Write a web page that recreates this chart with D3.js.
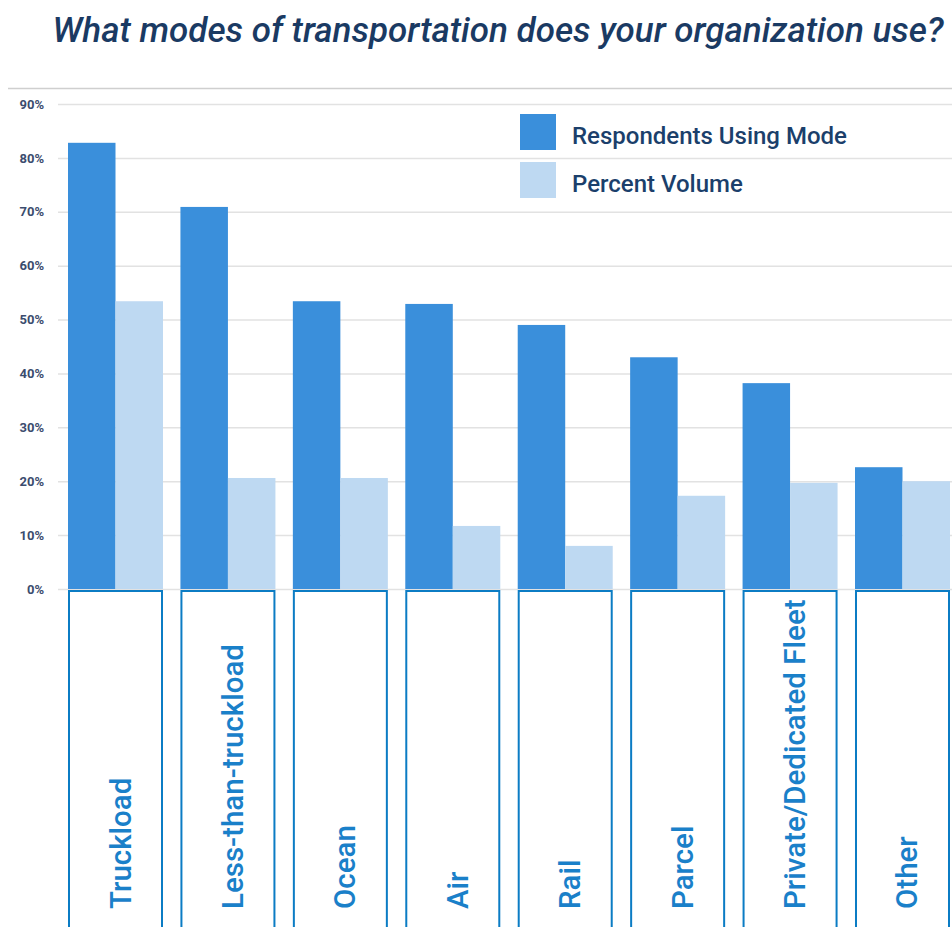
<!DOCTYPE html>
<html>
<head>
<meta charset="utf-8">
<script src="https://cdn.jsdelivr.net/npm/d3@7"></script>
<style>
  html, body { margin: 0; padding: 0; background: #fff; }
  svg { display: block; font-family: Roboto, "Noto Sans", sans-serif; }
</style>
</head>
<body>
<div id="chart"></div>
<script>
// Chart data
const modes = ['Truckload', 'Less-than-truckload', 'Ocean', 'Air', 'Rail', 'Parcel', 'Private/Dedicated Fleet', 'Other'];
const respondents = [82.8, 70.9, 53.4, 52.9, 49.0, 43.0, 38.2, 22.6];
const volume = [53.4, 20.6, 20.6, 11.7, 8.0, 17.3, 19.7, 20.0];
const seriesNames = ['Respondents Using Mode', 'Percent Volume'];
const yTicks = [0, 10, 20, 30, 40, 50, 60, 70, 80, 90];

const W = 952, H = 927;
const DARK = '#3a8fdb', LIGHT = '#bed9f2';

const svg = d3.select('#chart').append('svg').attr('width', W).attr('height', H);

// Title
svg.append('text')
  .attr('x', 498).attr('y', 42)
  .attr('text-anchor', 'middle')
  .attr('font-size', 35).attr('font-style', 'italic').attr('font-weight', 500)
  .attr('fill', '#1a3a63')
  .text('What modes of transportation does your organization use?');

// Top rule
svg.append('line').attr('x1', 8).attr('x2', W).attr('y1', 88.5).attr('y2', 88.5)
  .attr('stroke', '#cfcfcf').attr('stroke-width', 1.5);

const y = d3.scaleLinear().domain([0, 90]).range([589, 104]);
const x = d3.scaleBand().domain(modes).range([68, 950]).paddingInner(0.155).paddingOuter(0);
const xs = d3.scaleBand().domain(seriesNames).range([0, x.bandwidth()]);

// Grid + y labels
const yAxis = svg.append('g').attr('transform', 'translate(58,0)')
  .call(d3.axisLeft(y).tickValues(yTicks).tickSize(-(W - 58)).tickPadding(14).tickFormat(d => d + '%'));
yAxis.select('.domain').remove();
yAxis.selectAll('.tick line').attr('stroke', '#e2e2e2').attr('stroke-width', 1.5);
yAxis.selectAll('.tick text')
  .attr('font-size', 13).attr('font-weight', 700).attr('fill', '#3b4c6e')
  .attr('font-family', 'Roboto, sans-serif');

// Bars
const rows = modes.map((m, i) => ({ mode: m, vals: [respondents[i], volume[i]] }));
const groups = svg.append('g').selectAll('g').data(rows).join('g')
  .attr('transform', d => `translate(${x(d.mode)},0)`);
groups.selectAll('rect').data(d => d.vals.map((v, j) => ({ v, s: seriesNames[j] }))).join('rect')
  .attr('x', d => xs(d.s))
  .attr('width', xs.bandwidth())
  .attr('y', d => y(d.v))
  .attr('height', d => y(0) - y(d.v))
  .attr('fill', d => d.s === seriesNames[0] ? DARK : LIGHT);

// Category label boxes
const boxes = svg.append('g').selectAll('g').data(modes).join('g')
  .attr('transform', d => `translate(${x(d)},0)`);
boxes.append('rect')
  .attr('x', 1).attr('y', 591)
  .attr('width', x.bandwidth() - 2).attr('height', 360)
  .attr('fill', '#fff').attr('stroke', '#0b7cc4').attr('stroke-width', 2);
boxes.append('text')
  .attr('transform', `translate(${x.bandwidth() / 2 + 15},909) rotate(-90)`)
  .attr('font-size', 29.5).attr('font-weight', 500).attr('fill', '#1a80c9')
  .text(d => d);

// Legend
const legend = svg.append('g').attr('transform', 'translate(520,114)');
const li = legend.selectAll('g').data(seriesNames).join('g')
  .attr('transform', (d, i) => `translate(0,${i * 48})`);
li.append('rect').attr('width', 36).attr('height', 36)
  .attr('fill', (d, i) => i === 0 ? DARK : LIGHT);
li.append('text').attr('x', 52).attr('y', 30)
  .attr('font-size', 24).attr('font-weight', 500).attr('fill', '#1b3f6b')
  .text(d => d);
</script>
</body>
</html>
